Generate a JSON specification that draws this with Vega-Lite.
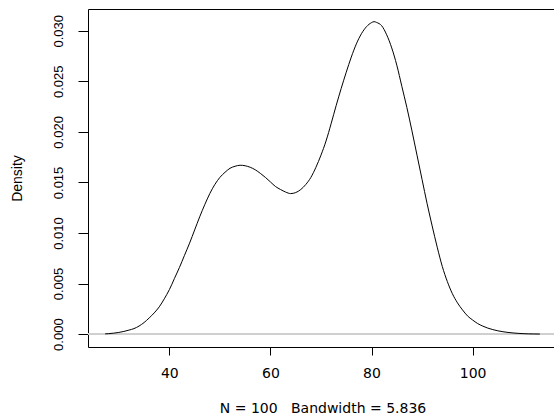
{
  "$schema": "https://vega.github.io/schema/vega-lite/v6.json",
  "autosize": "none",
  "width": 469,
  "height": 338,
  "padding": {"left": 88, "top": 9, "right": 0, "bottom": 72},
  "background": "white",
  "config": {
    "view": {"stroke": "black", "strokeWidth": 1},
    "axis": {"grid": false, "domain": false, "tickColor": "black", "tickWidth": 1, "labelColor": "black", "titleColor": "black", "titleFontWeight": "normal"}
  },
  "data": {"values": [
    {"x": 27.3, "density": 0.00003},
    {"x": 28, "density": 0.00005},
    {"x": 29, "density": 0.0001},
    {"x": 30, "density": 0.00017},
    {"x": 31, "density": 0.00027},
    {"x": 32, "density": 0.0004},
    {"x": 33, "density": 0.00055},
    {"x": 34, "density": 0.0008},
    {"x": 35, "density": 0.00115},
    {"x": 36, "density": 0.0016},
    {"x": 37, "density": 0.0021},
    {"x": 38, "density": 0.0027},
    {"x": 39, "density": 0.0035},
    {"x": 40, "density": 0.0044},
    {"x": 41, "density": 0.0055},
    {"x": 42, "density": 0.0066},
    {"x": 43, "density": 0.0078},
    {"x": 44, "density": 0.009},
    {"x": 45, "density": 0.0103},
    {"x": 46, "density": 0.0116},
    {"x": 47, "density": 0.0128},
    {"x": 48, "density": 0.0139},
    {"x": 49, "density": 0.0148},
    {"x": 50, "density": 0.0155},
    {"x": 51, "density": 0.016},
    {"x": 52, "density": 0.0164},
    {"x": 53, "density": 0.0166},
    {"x": 54, "density": 0.0167},
    {"x": 55, "density": 0.01665},
    {"x": 56, "density": 0.0165},
    {"x": 57, "density": 0.01625},
    {"x": 58, "density": 0.0159},
    {"x": 59, "density": 0.0155},
    {"x": 60, "density": 0.01505},
    {"x": 61, "density": 0.0146},
    {"x": 62, "density": 0.0143},
    {"x": 63, "density": 0.01405},
    {"x": 64, "density": 0.0139},
    {"x": 65, "density": 0.014},
    {"x": 66, "density": 0.0143},
    {"x": 67, "density": 0.0148},
    {"x": 68, "density": 0.0155},
    {"x": 69, "density": 0.0165},
    {"x": 70, "density": 0.0177},
    {"x": 71, "density": 0.0191},
    {"x": 72, "density": 0.0208},
    {"x": 73, "density": 0.0226},
    {"x": 74, "density": 0.0243},
    {"x": 75, "density": 0.0259},
    {"x": 76, "density": 0.0274},
    {"x": 77, "density": 0.0287},
    {"x": 78, "density": 0.0297},
    {"x": 79, "density": 0.0304},
    {"x": 80, "density": 0.0308},
    {"x": 80.5, "density": 0.0309},
    {"x": 81, "density": 0.03082},
    {"x": 82, "density": 0.0305},
    {"x": 83, "density": 0.0296},
    {"x": 84, "density": 0.0283},
    {"x": 85, "density": 0.0266},
    {"x": 86, "density": 0.0245},
    {"x": 87, "density": 0.0224},
    {"x": 88, "density": 0.0201},
    {"x": 89, "density": 0.0177},
    {"x": 90, "density": 0.0153},
    {"x": 91, "density": 0.0129},
    {"x": 92, "density": 0.0107},
    {"x": 93, "density": 0.0086},
    {"x": 94, "density": 0.0067},
    {"x": 95, "density": 0.0052},
    {"x": 96, "density": 0.004},
    {"x": 97, "density": 0.0031},
    {"x": 98, "density": 0.0024},
    {"x": 99, "density": 0.0018},
    {"x": 100, "density": 0.0014},
    {"x": 101, "density": 0.00105},
    {"x": 102, "density": 0.0008},
    {"x": 103, "density": 0.0006},
    {"x": 104, "density": 0.00045},
    {"x": 105, "density": 0.00033},
    {"x": 106, "density": 0.00024},
    {"x": 107, "density": 0.00017},
    {"x": 108, "density": 0.00012},
    {"x": 109, "density": 0.00008},
    {"x": 110, "density": 0.00005},
    {"x": 111, "density": 0.00003},
    {"x": 112, "density": 0.00002},
    {"x": 113.3, "density": 0.00001}
  ]},
  "layer": [
    {
      "mark": {"type": "rule", "color": "#cfcfcf", "strokeWidth": 1},
      "encoding": {"y": {"datum": 0, "type": "quantitative", "scale": {"domain": [-0.00127, 0.03215], "nice": false, "zero": false}}}
    },
    {
      "mark": {"type": "line", "color": "black", "strokeWidth": 1, "interpolate": "monotone"},
      "encoding": {
        "x": {
          "field": "x", "type": "quantitative",
          "scale": {"domain": [23.9, 116.7], "nice": false, "zero": false},
          "axis": {
            "values": [40, 60, 80, 100],
            "tickSize": 8,
            "labelFont": "DejaVu Sans", "labelFontSize": 14, "labelPadding": 11,
            "labelBaseline": "top",
            "title": "N = 100\u00a0\u00a0\u00a0Bandwidth = 5.836",
            "titleFont": "DejaVu Sans", "titleFontSize": 14, "titlePadding": 21
          }
        },
        "y": {
          "field": "density", "type": "quantitative",
          "scale": {"domain": [-0.00127, 0.03215], "nice": false, "zero": false},
          "axis": {
            "values": [0, 0.005, 0.01, 0.015, 0.02, 0.025, 0.03],
            "format": ".3f",
            "tickSize": 10,
            "labelFont": "Liberation Sans", "labelFontSize": 13,
            "labelAngle": -90, "labelAlign": "center", "labelBaseline": "middle",
            "labelPadding": 20,
            "title": "Density",
            "titleFont": "Liberation Sans", "titleFontSize": 14, "titlePadding": 28
          }
        }
      }
    }
  ]
}
